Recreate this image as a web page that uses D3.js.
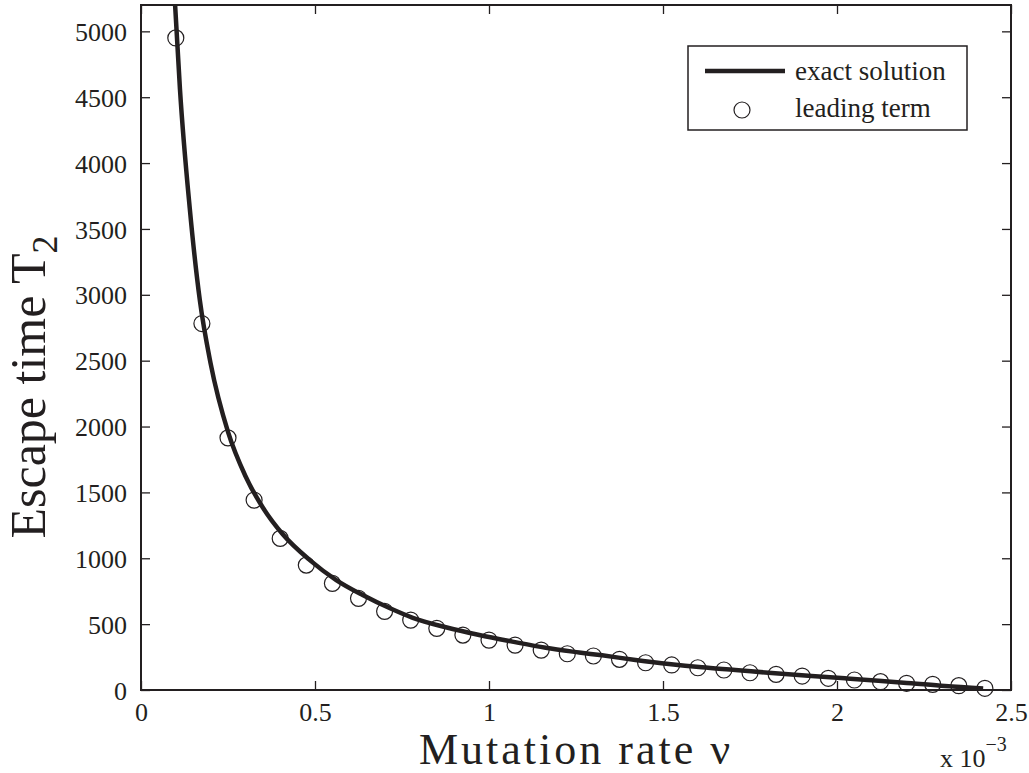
<!DOCTYPE html>
<html>
<head>
<meta charset="utf-8">
<script src="https://cdn.jsdelivr.net/npm/d3@7"></script>
<style>
  html, body { margin: 0; padding: 0; background: #fff; }
  svg { display: block; }
  svg text { font-family: "Liberation Serif", "DejaVu Serif", serif !important; fill: #231f20; }
</style>
</head>
<body>
<svg id="chart" width="1029" height="773"></svg>
<script>
// Mutation rate nu, in units of 1e-3
const exactNu = [0.098, 0.112, 0.14, 0.169, 0.2, 0.25, 0.3, 0.35, 0.408, 0.485, 0.561, 0.637, 0.714, 0.781, 0.876, 0.972, 1.067, 1.163, 1.259, 1.325, 1.421, 1.517, 1.612, 1.708, 1.803, 1.927, 2.023, 2.119, 2.214, 2.31, 2.42];
const exactT  = [5200, 4560, 3660, 2960, 2480, 1960, 1625, 1385, 1180, 986, 835, 721, 622, 548, 476, 417, 367, 320, 285, 263, 228, 197, 172, 152, 131, 106, 89, 71, 51, 30, 12];

const leadNu = [0.1, 0.175, 0.25, 0.325, 0.4, 0.475, 0.55, 0.625, 0.7, 0.775, 0.85, 0.925, 1.0, 1.075, 1.15, 1.225, 1.3, 1.375, 1.45, 1.525, 1.6, 1.675, 1.75, 1.825, 1.9, 1.975, 2.05, 2.125, 2.2, 2.275, 2.35, 2.425];
const leadT  = [4950, 2782, 1914, 1442, 1151, 948, 810, 696, 597, 531, 468, 417, 379, 341, 303, 275, 258, 233, 207, 190, 169, 152, 131, 119, 106, 89, 76, 63, 51, 43, 33, 13];

const xTicks = [0, 0.5, 1, 1.5, 2, 2.5];
const xTickLabels = ["0", "0.5", "1", "1.5", "2", "2.5"];
const yTicks = [0, 500, 1000, 1500, 2000, 2500, 3000, 3500, 4000, 4500, 5000];

const ink = "#231f20";
const serif = '"Liberation Serif", "DejaVu Serif", serif';
const L = 141, R = 1011, T = 5, B = 690;

const svg = d3.select("#chart");
const x = d3.scaleLinear().domain([0, 2.5]).range([L, R]);
const y = d3.scaleLinear().domain([0, 5200]).range([B, T]);

svg.append("defs").append("clipPath").attr("id", "clip")
  .append("rect").attr("x", L).attr("y", T).attr("width", R - L).attr("height", B - T);

// Axes with inward ticks
const tickLen = 9;
const gx = svg.append("g").attr("transform", `translate(0,${B})`)
  .call(d3.axisBottom(x).tickValues(xTicks).tickSize(-tickLen).tickFormat((d, i) => xTickLabels[i]));
gx.selectAll("text").attr("y", 31).attr("dy", 0).attr("font-size", 26);
const gxt = svg.append("g").attr("transform", `translate(0,${T})`)
  .call(d3.axisTop(x).tickValues(xTicks).tickSize(-tickLen).tickFormat(""));
const gy = svg.append("g").attr("transform", `translate(${L},0)`)
  .call(d3.axisLeft(y).tickValues(yTicks).tickSize(-tickLen).tickFormat(d3.format("d")));
gy.selectAll("text").attr("x", -14).attr("dy", "0.35em").attr("font-size", 26);
const gyr = svg.append("g").attr("transform", `translate(${R},0)`)
  .call(d3.axisRight(y).tickValues(yTicks).tickSize(-tickLen).tickFormat(""));
[gx, gxt, gy, gyr].forEach(g => {
  g.attr("font-family", serif).style("font-family", serif);
  g.select(".domain").remove();
  g.selectAll("line").attr("stroke", ink).attr("stroke-width", 1.3);
  g.selectAll("text").attr("fill", ink).attr("font-family", serif).style("font-family", serif);
});

// Frame
svg.append("rect").attr("x", L).attr("y", T).attr("width", R - L).attr("height", B - T)
  .attr("fill", "none").attr("stroke", ink).attr("stroke-width", 2);

// Exact solution line
const lineData = exactNu.map((v, i) => [v, exactT[i]]);
svg.append("path").datum(lineData)
  .attr("clip-path", "url(#clip)")
  .attr("fill", "none").attr("stroke", ink).attr("stroke-width", 4.5)
  .attr("d", d3.line().x(d => x(d[0])).y(d => y(d[1])).curve(d3.curveMonotoneX));

// Leading term circles
svg.append("g").selectAll("circle").data(leadNu.map((v, i) => [v, leadT[i]])).join("circle")
  .attr("cx", d => x(d[0])).attr("cy", d => y(d[1])).attr("r", 8)
  .attr("fill", "none").attr("stroke", ink).attr("stroke-width", 1.2);

// Axis labels
svg.append("text").attr("x", (L + R) / 2).attr("y", 764).attr("text-anchor", "middle")
  .attr("font-size", 44).attr("letter-spacing", 3).style("font-family", serif).text("Mutation rate ν");

const yl = svg.append("text").attr("transform", `translate(45,387) rotate(-90)`)
  .attr("text-anchor", "middle").attr("font-size", 50).style("font-family", serif);
yl.append("tspan").text("Escape time T");
yl.append("tspan").attr("font-size", 36).attr("dy", 12).text("2");

// Exponent label
const ex = svg.append("text").attr("x", 940).attr("y", 767).attr("font-size", 26).style("font-family", serif);
ex.append("tspan").text("x 10");
ex.append("tspan").attr("font-size", 20).attr("dy", -16).text("−3");

// Legend
const lg = svg.append("g");
lg.append("rect").attr("x", 688).attr("y", 46).attr("width", 279).attr("height", 84)
  .attr("fill", "#fff").attr("stroke", ink).attr("stroke-width", 1.5);
lg.append("line").attr("x1", 705).attr("x2", 785).attr("y1", 71).attr("y2", 71)
  .attr("stroke", ink).attr("stroke-width", 4.5);
lg.append("circle").attr("cx", 742).attr("cy", 110).attr("r", 8)
  .attr("fill", "none").attr("stroke", ink).attr("stroke-width", 1.2);
lg.append("text").attr("x", 795).attr("y", 80).attr("font-size", 27).style("font-family", serif).text("exact solution");
lg.append("text").attr("x", 795).attr("y", 117).attr("font-size", 27).style("font-family", serif).text("leading term");
</script>
</body>
</html>
